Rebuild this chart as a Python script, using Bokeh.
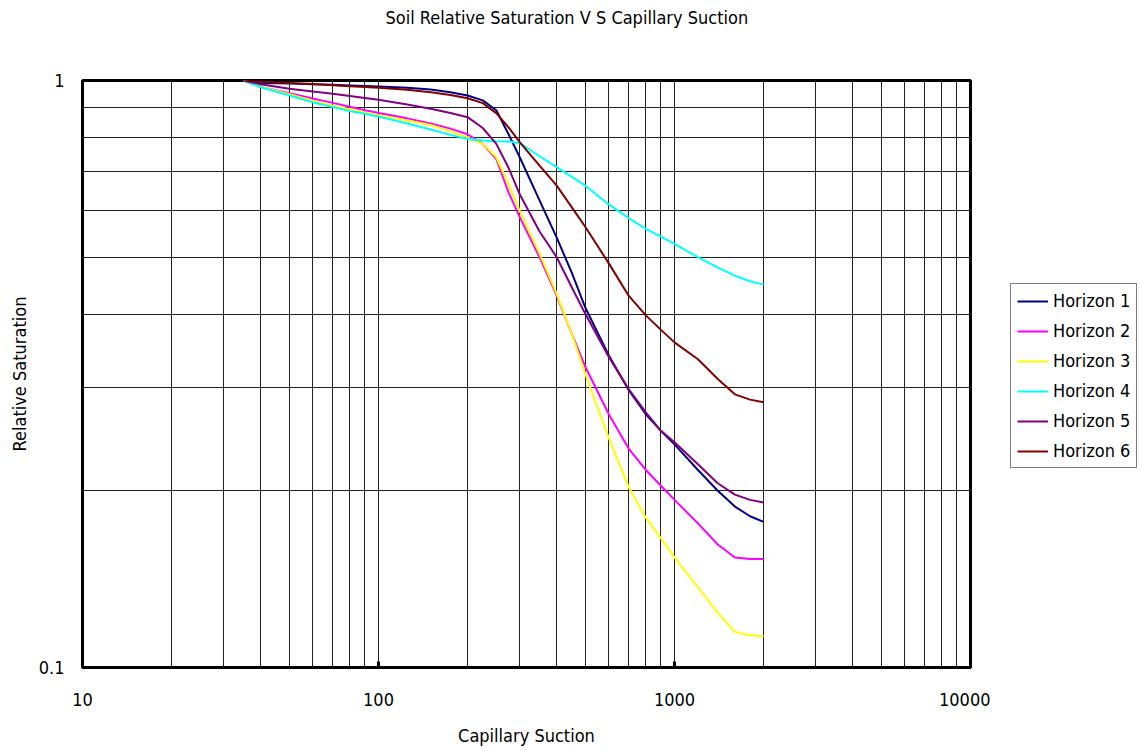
from bokeh.plotting import figure
from bokeh.models import Range1d, FixedTicker, Legend, LegendItem, BasicTickFormatter, Title
from bokeh.layouts import row
from bokeh.embed import file_html
from bokeh.resources import INLINE

# ---------------- data ----------------
suction = [35, 40, 50, 60, 70, 80, 90, 100, 125, 150, 175, 200, 225, 250, 275, 300,
           350, 400, 450, 500, 600, 700, 800, 900, 1000, 1200, 1400, 1600, 1800, 2000]

horizon1 = [1.0, 0.99, 0.988, 0.985, 0.983, 0.981, 0.979, 0.977, 0.972, 0.965, 0.955, 0.943,
            0.925, 0.89, 0.81, 0.74, 0.625, 0.54, 0.47, 0.41, 0.34, 0.297, 0.27, 0.253, 0.24,
            0.217, 0.2, 0.188, 0.181, 0.177]
horizon2 = [1.0, 0.975, 0.951, 0.932, 0.916, 0.902, 0.89, 0.88, 0.862, 0.845, 0.828, 0.81,
            0.78, 0.735, 0.645, 0.585, 0.5, 0.43, 0.37, 0.325, 0.27, 0.236, 0.217, 0.204, 0.193,
            0.176, 0.162, 0.154, 0.153, 0.153]
horizon3 = [1.0, 0.976, 0.948, 0.924, 0.906, 0.893, 0.882, 0.873, 0.855, 0.84, 0.82, 0.8,
            0.78, 0.74, 0.665, 0.6, 0.507, 0.433, 0.37, 0.316, 0.246, 0.203, 0.18, 0.166, 0.154,
            0.137, 0.124, 0.115, 0.1135, 0.113]
horizon4 = [1.0, 0.974, 0.943, 0.918, 0.901, 0.887, 0.878, 0.868, 0.845, 0.825, 0.808, 0.795,
            0.79, 0.788, 0.787, 0.782, 0.743, 0.712, 0.685, 0.662, 0.615, 0.583, 0.559, 0.542, 0.527,
            0.5, 0.48, 0.465, 0.455, 0.449]
horizon5 = [1.0, 0.985, 0.968, 0.958, 0.949, 0.941, 0.934, 0.927, 0.91, 0.895, 0.88, 0.866,
            0.83, 0.78, 0.71, 0.64, 0.553, 0.5, 0.444, 0.4, 0.338, 0.298, 0.272, 0.253, 0.242,
            0.222, 0.206, 0.197, 0.193, 0.191]
horizon6 = [1.0, 0.995, 0.99, 0.986, 0.982, 0.978, 0.975, 0.972, 0.964, 0.955, 0.945, 0.933,
            0.915, 0.88, 0.832, 0.785, 0.716, 0.662, 0.608, 0.563, 0.488, 0.43, 0.398, 0.376, 0.358,
            0.335, 0.31, 0.292, 0.286, 0.283]

series_names = ["Horizon 1", "Horizon 2", "Horizon 3", "Horizon 4", "Horizon 5", "Horizon 6"]
series_values = [horizon1, horizon2, horizon3, horizon4, horizon5, horizon6]
series_colors = ["#000080", "#FF00FF", "#FFFF00", "#00FFFF", "#800080", "#800000"]

x_major_ticks = [10, 100, 1000, 10000]
y_major_ticks = [0.1, 1]
x_grid_ticks = [20, 30, 40, 50, 60, 70, 80, 90, 100, 200, 300, 400, 500, 600, 700, 800, 900,
                1000, 2000, 3000, 4000, 5000, 6000, 7000, 8000, 9000]
y_grid_ticks = [0.2, 0.3, 0.4, 0.5, 0.6, 0.7, 0.8, 0.9]

title_text = "Soil Relative Saturation V S Capillary Suction"
x_label = "Capillary Suction"
y_label = "Relative Saturation"

FONT = "DejaVu Sans Condensed"

# ---------------- main figure ----------------
p = figure(width=990, height=751, x_axis_type="log", y_axis_type="log",
           x_range=Range1d(10, 10000), y_range=Range1d(0.1, 1),
           output_backend="svg", toolbar_location=None, title=None,
           min_border_left=82, min_border_right=20, min_border_top=80, min_border_bottom=84)

p.background_fill_color = "white"
p.border_fill_color = "white"
p.outline_line_color = "black"
p.outline_line_width = 3

# spacer title next to the frame, real title further up
p.add_layout(Title(text=" ", text_font=FONT, text_font_size="18px", standoff=28,
                   text_color="white"), "above")
p.add_layout(Title(text=title_text, align="left", offset=303, standoff=0,
                   vertical_align="top", text_font=FONT, text_font_size="18px",
                   text_font_style="normal", text_color="black"), "above")

# grids
p.xgrid.ticker = FixedTicker(ticks=x_grid_ticks)
p.ygrid.ticker = FixedTicker(ticks=y_grid_ticks)
p.xgrid.grid_line_color = "#222222"
p.ygrid.grid_line_color = "#222222"
p.xgrid.grid_line_width = 1
p.ygrid.grid_line_width = 1

# axes
p.xaxis.ticker = FixedTicker(ticks=x_major_ticks)
p.yaxis.ticker = FixedTicker(ticks=y_major_ticks)
p.xaxis.formatter = BasicTickFormatter(use_scientific=False)
p.yaxis.formatter = BasicTickFormatter(use_scientific=False)
for ax in (p.xaxis[0], p.yaxis[0]):
    ax.axis_line_color = None
    ax.minor_tick_line_color = None
    ax.major_label_text_font = FONT
    ax.major_label_text_font_size = "18px"
    ax.major_label_text_color = "black"
    ax.axis_label_text_font = FONT
    ax.axis_label_text_font_size = "18px"
    ax.axis_label_text_font_style = "normal"
    ax.axis_label_text_color = "black"

p.xaxis.major_tick_in = 6
p.xaxis.major_tick_out = 0
p.xaxis.major_tick_line_width = 3
p.xaxis.major_tick_line_color = "black"
p.xaxis.major_label_standoff = 25
p.xaxis.axis_label = x_label
p.xaxis.axis_label_standoff = 16

p.yaxis.major_tick_line_color = None
p.yaxis.major_tick_in = 0
p.yaxis.major_tick_out = 0
p.yaxis.major_label_standoff = 18
p.yaxis.axis_label = y_label
p.yaxis.axis_label_standoff = 6

# lines
for name, vals, col in zip(series_names, series_values, series_colors):
    p.line(suction, vals, line_color=col, line_width=2)

# ---------------- legend panel (separate narrow figure) ----------------
# its ranges lie away from the data, so the proxy lines only show in the legend
pl = figure(width=150, height=751, x_range=Range1d(0, 1), y_range=Range1d(0, 0.01),
            output_backend="svg", toolbar_location=None, title=None,
            x_axis_location=None, y_axis_location=None,
            min_border=0, min_border_left=0, min_border_right=0,
            min_border_top=0, min_border_bottom=0)
pl.grid.visible = False
pl.outline_line_color = None
pl.background_fill_color = "white"
pl.border_fill_color = "white"

items = []
for name, vals, col in zip(series_names, series_values, series_colors):
    r = pl.line(suction, vals, line_color=col, line_width=2)
    items.append(LegendItem(label=name, renderers=[r]))

legend = Legend(items=items, location=(20, 199))
legend.border_line_color = "black"
legend.border_line_width = 1
legend.background_fill_color = "white"
legend.background_fill_alpha = 1
legend.label_text_font = FONT
legend.label_text_font_size = "18px"
legend.label_text_color = "black"
legend.glyph_width = 31
legend.glyph_height = 20
legend.label_height = 20
legend.spacing = 9
legend.padding = 6
legend.margin = 0
legend.label_standoff = 5
pl.add_layout(legend)

layout = row(p, pl, spacing=0)

open("out.html", "w").write(file_html(layout, INLINE))
